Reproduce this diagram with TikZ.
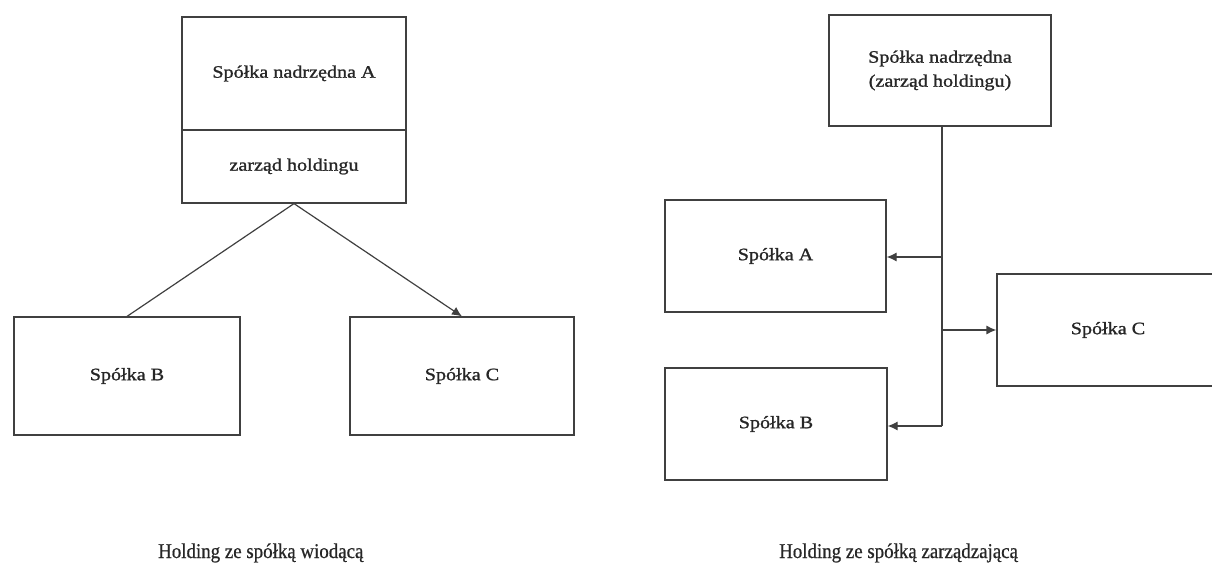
\documentclass[tikz,border=0pt]{standalone}
\usepackage{fontspec}
\setmainfont{Liberation Serif}
\newfontfamily\boxfont{Liberation Serif}[FakeStretch=1.15,FakeBold=1.2]
\newfontfamily\capfont{Liberation Serif}[FakeStretch=0.9,FakeBold=0.6]
\usetikzlibrary{arrows.meta}
\tikzset{
  box/.style={draw=black!75, line width=1.2pt, rectangle, inner sep=0pt, text=black!85,
    font=\boxfont\fontsize{17.5}{24}\selectfont, align=center},
  conn/.style={draw=black!75, line width=1.2pt},
  arr/.style={conn, -{Latex[length=10pt,width=9pt]}},
  caption/.style={anchor=base west, text=black!85, font=\capfont\fontsize{21}{24}\selectfont, inner sep=0pt}
}
\begin{document}
\begin{tikzpicture}[x=1pt,y=-1pt]
\useasboundingbox (0,0) rectangle (1212,564);
\clip (0,0) rectangle (1212,564);
% left diagram
\node[box, minimum width=224pt, minimum height=113pt] (A1) at (294,73.5) {Spółka nadrzędna A};
\node[box, minimum width=224pt, minimum height=73pt] (A2) at (294,166.5) {zarząd holdingu};
\node[box, minimum width=226pt, minimum height=118pt] (B) at (127,376) {Spółka B};
\node[box, minimum width=224pt, minimum height=118pt] (C) at (462,376) {Spółka C};
\draw[conn] (A2.south) -- (B.north);
\draw[arr] (A2.south) -- (C.north);
\node[caption] (capL) at (158,558) {Holding ze spółką wiodącą};
% right diagram
\node[box, minimum width=222pt, minimum height=111pt] (T) at (940,70.5) {Spółka nadrzędna\\(zarząd holdingu)};
\node[box, minimum width=221pt, minimum height=112pt] (RA) at (775.5,256) {Spółka A};
\node[box, minimum width=222pt, minimum height=112pt] (RB) at (776,424) {Spółka B};
\node[box, minimum width=222pt, minimum height=112pt] (RC) at (1108,330) {Spółka C};
\coordinate (bot) at (942,426);
\coordinate (jA) at (942,257);
\coordinate (jC) at (942,330);
\draw[conn] (T.south -| bot) -- (bot);
\draw[arr] (jA) -- (jA -| RA.east);
\draw[arr] (jC) -- (jC -| RC.west);
\draw[arr] (bot) -- (bot -| RB.east);
\node[caption] (capR) at (779,558) {Holding ze spółką zarządzającą};
\end{tikzpicture}
\end{document}
